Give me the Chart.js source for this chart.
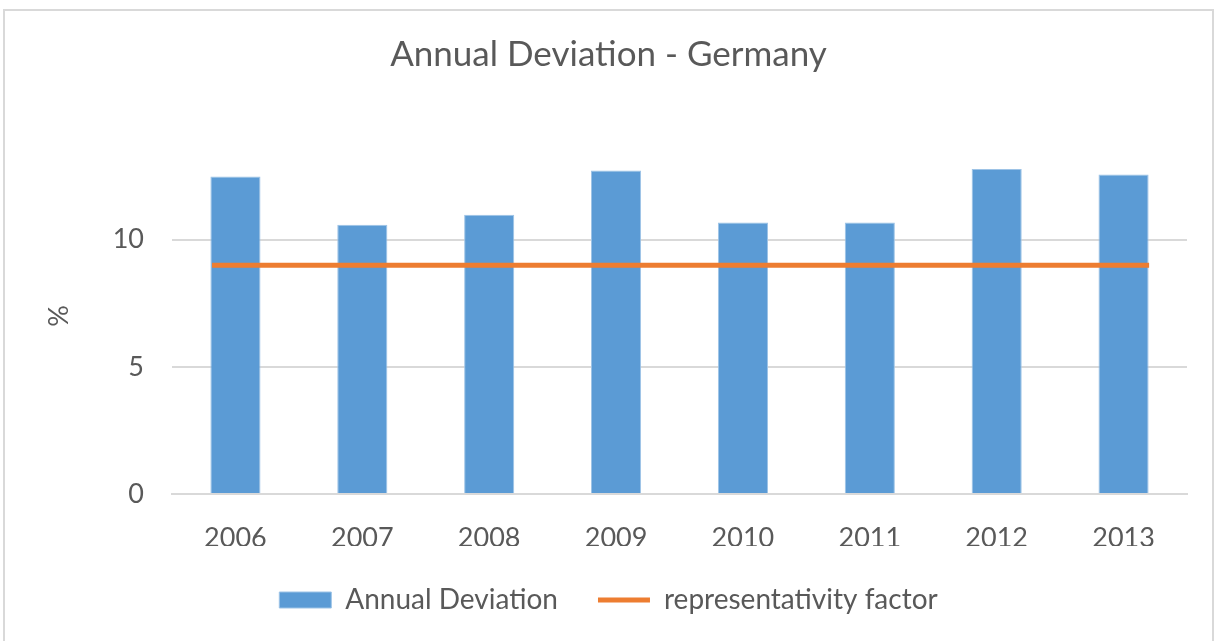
<!DOCTYPE html>
<html>
<head>
<meta charset="utf-8">
<script src="https://cdn.jsdelivr.net/npm/chart.js@4.4.0/dist/chart.umd.min.js"></script>
<style>
  html, body { margin: 0; padding: 0; background: #fff; }
  #wrap { position: relative; width: 1217px; height: 641px; }
  #frame { position: absolute; left: 3px; top: 9px; width: 1211px; height: 640px; border: 2px solid #d9d9d9; box-sizing: border-box; }
  canvas { position: absolute; left: 0; top: 0; }
</style>
</head>
<body>
<div id="wrap">
  <div id="frame"></div>
  <canvas id="chart" width="1217" height="641"></canvas>
</div>
<script>
const years = ['2006', '2007', '2008', '2009', '2010', '2011', '2012', '2013'];
const annualDeviation = [12.49, 10.59, 10.98, 12.72, 10.68, 10.68, 12.78, 12.56];
const representativity = [9, 9, 9, 9, 9, 9, 9, 9];
const yTicks = [0, 5, 10];

const textColor = '#595959';
const fontFamily = 'Lato, "Open Sans", sans-serif';

// the orange line runs from the first bar's left edge to the last bar's right edge,
// so it sits on its own hidden index axis
const linePoints = representativity.map((v, i) => ({ x: i, y: v }));

const ctx = document.getElementById('chart').getContext('2d');
new Chart(ctx, {
  data: {
    labels: years,
    datasets: [
      {
        type: 'line',
        label: 'representativity factor',
        data: linePoints,
        xAxisID: 'xl',
        borderColor: '#ED7D31',
        backgroundColor: '#ED7D31',
        borderWidth: 5,
        pointRadius: 0,
        pointStyle: 'line',
        order: 0
      },
      {
        type: 'bar',
        label: 'Annual Deviation',
        data: annualDeviation,
        backgroundColor: '#5B9BD5',
        borderColor: '#9DC3E6',
        borderWidth: 1,
        pointStyle: 'rect',
        grouped: false,
        categoryPercentage: 1,
        barPercentage: 0.395,
        order: 1
      }
    ]
  },
  options: {
    responsive: false,
    animation: false,
    layout: { padding: { left: 0, right: 0, top: 0, bottom: 17 } },
    plugins: {
      title: {
        display: true,
        text: 'Annual Deviation - Germany',
        color: textColor,
        font: { family: fontFamily, size: 35, weight: 'normal' },
        padding: { top: 34, bottom: 62 }
      },
      legend: {
        position: 'bottom',
        reverse: true,
        labels: {
          color: textColor,
          font: { family: fontFamily, size: 28 },
          usePointStyle: true,
          pointStyleWidth: 52,
          boxHeight: 16,
          padding: 40
        }
      },
      tooltip: { enabled: false }
    },
    scales: {
      x: {
        grid: { display: false, drawTicks: false },
        border: { display: true, color: '#d9d9d9', width: 2 },
        ticks: { color: textColor, font: { family: fontFamily, size: 27 }, padding: 28 },
        afterFit: s => { s.height = 52; }
      },
      xl: {
        type: 'linear',
        display: false,
        min: -0.299,
        max: 7.283
      },
      y: {
        min: 0,
        max: 14,
        afterBuildTicks: s => { s.ticks = yTicks.map(v => ({ value: v })); },
        grid: { color: '#d9d9d9', lineWidth: 2, drawTicks: false },
        border: { display: false },
        ticks: { color: textColor, font: { family: fontFamily, size: 27 }, padding: 28 },
        title: {
          display: true,
          text: '%',
          color: textColor,
          font: { family: fontFamily, size: 27 },
          padding: { top: 43, bottom: 0 }
        },
        afterFit: s => { s.width = 172; }
      },
      y2: {
        position: 'right',
        display: true,
        grid: { display: false, drawTicks: false },
        border: { display: false },
        ticks: { display: false },
        afterFit: s => { s.width = 30; }
      }
    }
  }
});
</script>
</body>
</html>
